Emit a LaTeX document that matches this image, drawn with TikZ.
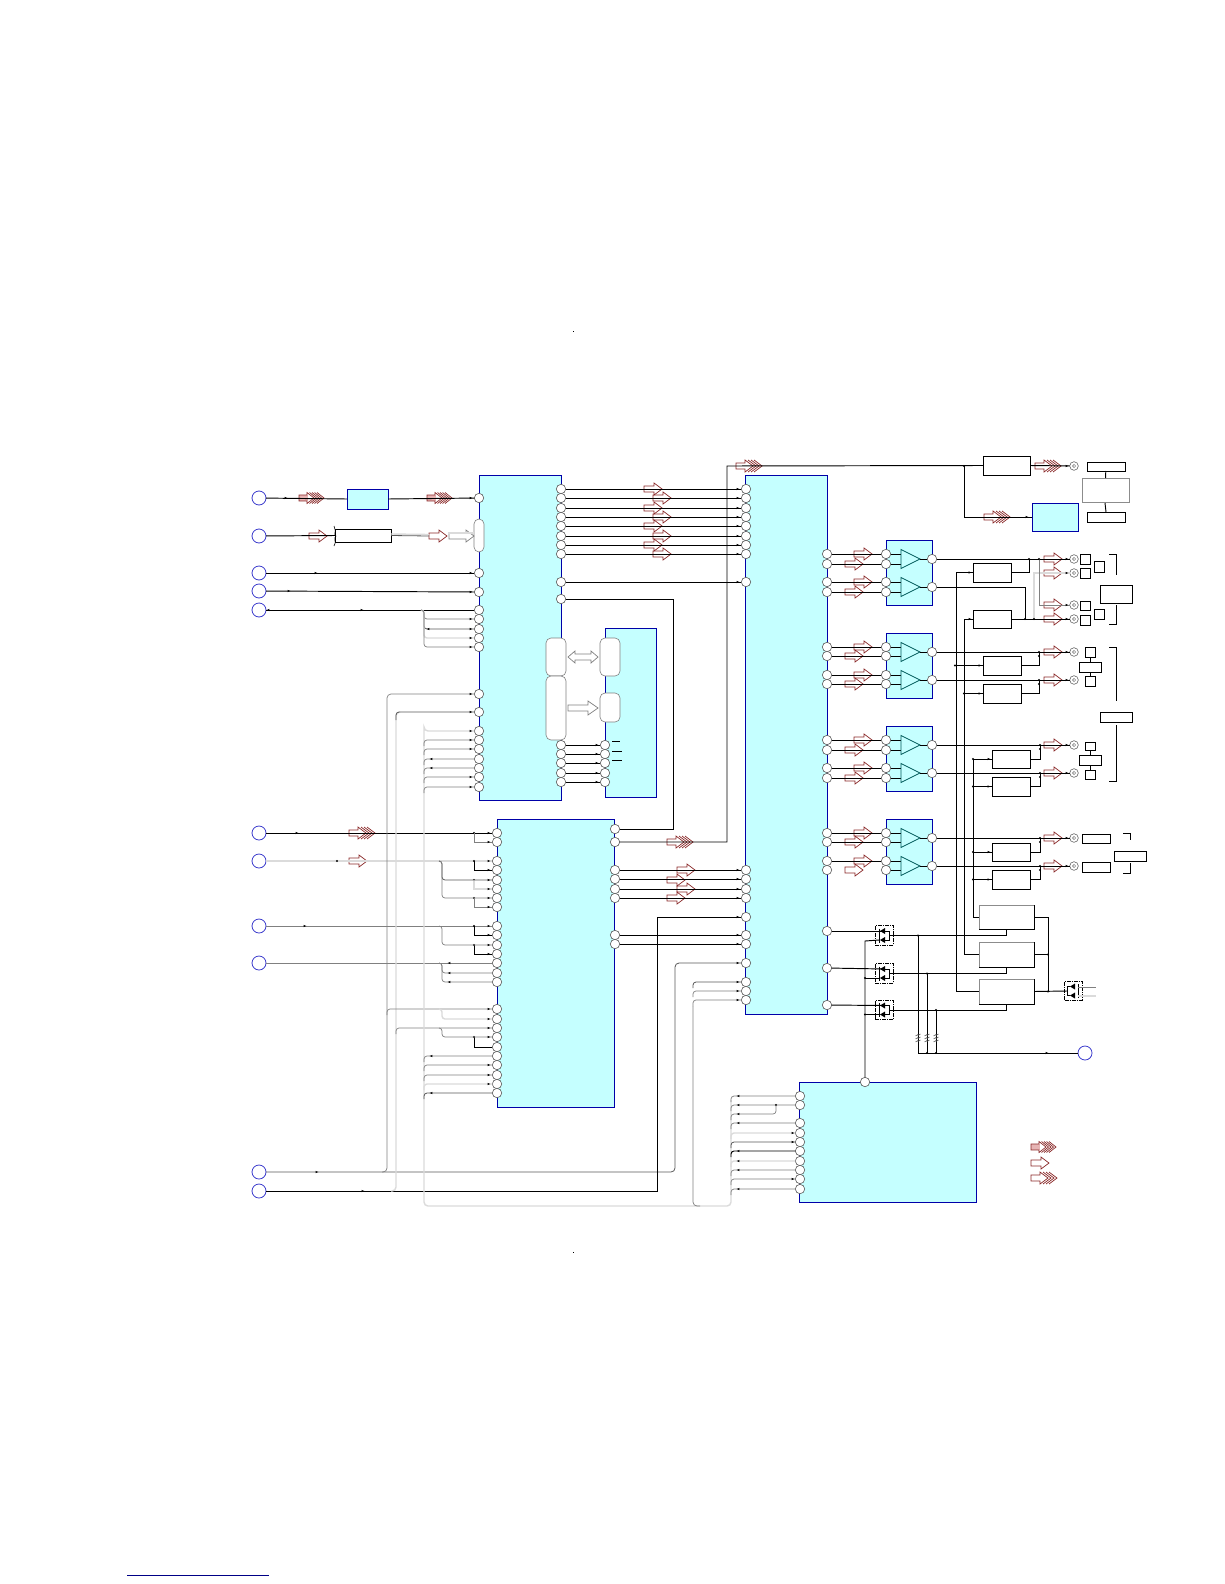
\documentclass[tikz,border=0pt]{standalone}
\usetikzlibrary{calc}
\definecolor{icfill}{HTML}{C5FFFF}
\definecolor{icblue}{HTML}{0000A8}
\definecolor{redarr}{HTML}{8B2A2A}
\definecolor{pinkarr}{HTML}{E6B4B4}
\definecolor{ampline}{HTML}{005A5A}
\definecolor{circblue}{HTML}{3A3ACC}
\tikzset{
  pinnode/.style={circle,draw=black!65,fill=white,line width=0.6pt,minimum size=9.4pt,inner sep=0pt,outer sep=0pt},
  portnode/.style={circle,draw=circblue,fill=white,line width=0.8pt,minimum size=14pt,inner sep=0pt,outer sep=0pt},
  jacknode/.style={circle,draw=black!60,fill=white,line width=0.6pt,minimum size=8.6pt,inner sep=0pt,outer sep=0pt},
  icbox/.style={draw=icblue,fill=icfill,line width=1pt},
  plainbox/.style={draw=black,fill=white,line width=0.9pt},
  greybox/.style={draw=black!45,fill=white,line width=0.9pt},
  slotnode/.style={draw=black!50,fill=white,line width=0.6pt,rounded corners=5pt},
  fetbox/.style={draw=black,line width=0.7pt,dash pattern=on 4pt off 1pt on 1pt off 1pt,minimum width=18pt,minimum height=19.5pt,inner sep=0pt},
  wblack/.style={draw=black,line width=0.95pt},
  wdark/.style={draw=black!65,line width=0.8pt},
  wgrey/.style={draw=black!50,line width=0.7pt},
  wlight/.style={draw=black!14,line width=1.4pt},
  redline/.style={draw=redarr,line width=0.7pt,line join=miter},
  grayarr/.style={draw=black!50,line width=0.7pt},
}
% rectangle node from two corners: style,name,x1,y1,x2,y2
\newcommand\boxat[6]{\node[#1,inner sep=0pt,outer sep=0pt,minimum width={(#5-#3)*1pt},minimum height={(#6-#4)*1pt}] (#2) at ({(#3+#5)/2},{(#4+#6)/2}) {};}
\newcommand\onearrow[3][redline]{\draw[#1] (#2,#3-3) -- (#2+10,#3-3) -- (#2+10,#3-6) -- (#2+18,#3) -- (#2+10,#3+6) -- (#2+10,#3+3) -- (#2,#3+3) -- cycle;}
\newcommand\chevarrow[2]{\draw[redline] (#1,#2-3) -- (#1+9,#2-3) -- (#1+9,#2-6) -- (#1+17,#2) -- (#1+9,#2+6) -- (#1+9,#2+3) -- (#1,#2+3) -- cycle;
  \foreach \o in {12,15,18}{\draw[redline] (#1+\o,#2-6) -- (#1+\o+8,#2) -- (#1+\o,#2+6);}}
\newcommand\densearrow[2]{\fill[pinkarr] (#1,#2-3) rectangle (#1+9,#2+3);
  \draw[redline] (#1,#2-3) -- (#1+8,#2-3) -- (#1+8,#2-5.5) -- (#1+15,#2) -- (#1+8,#2+5.5) -- (#1+8,#2+3) -- (#1,#2+3) -- cycle;
  \foreach \o in {10.5,13,15.5,18}{\draw[redline] (#1+\o,#2-5.5) -- (#1+\o+7,#2) -- (#1+\o,#2+5.5);}}
\newcommand\tipR[2]{\fill[black] (#1-1.3,#2-1.1) -- (#1+1.3,#2) -- (#1-1.3,#2+1.1) -- cycle;}
\newcommand\tipL[2]{\fill[black] (#1+1.3,#2-1.1) -- (#1-1.3,#2) -- (#1+1.3,#2+1.1) -- cycle;}
\newcommand\jdot[2]{\fill[black] (#1,#2) circle (1.2);}
% branch leaving a horizontal run: style, bus x, y from, y to, target
\newcommand\tap[5]{\coordinate (ta) at (#2-3,#3); \coordinate (tb) at (#2,#4);
  \draw[#1,rounded corners=3pt] (ta) -| (tb) -- (#5);}
% branch rising from a vertical bus: style, bus x, y start, target
\newcommand\rise[4]{\coordinate (ta) at (#2,#3); \draw[#1,rounded corners=3pt] (ta) |- (#4);}
\newcommand\fetcore[3]{%
  \coordinate (#1o) at (#2+5.5,#3);
  \coordinate (#1t) at (#2+1,#3-4.5);
  \coordinate (#1b) at (#2-5,#3+4.5);
  \fill[black] (#2-4,#3-4.5) -- (#2+1,#3-7.5) -- (#2+1,#3-1.5) -- cycle;
  \fill[black] (#2-4,#3+4.5) -- (#2+1,#3+1.5) -- (#2+1,#3+7.5) -- cycle;
  \draw[line width=0.8pt] (#2-5,#3-7) -- (#2-5,#3+7);
  \draw[line width=0.8pt] (#2+1,#3-4.5) -- (#2+5.5,#3-4.5) -- (#2+5.5,#3+4.5) -- (#2+1,#3+4.5);}
\newcommand\squig[2]{\foreach \k in {-3,0,3}{\draw[line width=0.5pt,black!70] (#1-2.5,#2+\k+1) -- (#1,#2+\k-0.5) -- (#1,#2+\k+0.5) -- (#1+2.5,#2+\k-1);}}
\begin{document}
\begin{tikzpicture}[x=1pt,y=-1pt]
\useasboundingbox (0,0) rectangle (1224,1584);
\fill[white] (0,0) rectangle (1224,1584);

% page marks
\fill[black] (573,330.5) rectangle (574,331.5);
\fill[black] (573,1251.5) rectangle (574,1252.5);
\coordinate (fa) at (127,1575); \coordinate (fb) at (269,1575);
\draw[icblue!80!black,line width=1pt] (fa) -- (fb);

% ICs
\boxat{icbox}{ICa}{479}{475}{561}{800}
\boxat{icbox}{ICb}{605}{628}{656.5}{797}
\boxat{icbox}{ICc}{745}{475}{827}{1014}
\boxat{icbox}{ICd}{497}{819}{614.5}{1107}
\boxat{icbox}{ICe}{799.5}{1082}{976.5}{1202}
\boxat{icbox}{ICf}{347}{489}{388}{509}
\boxat{icbox}{ICg}{1032}{503}{1078.5}{531}
\boxat{icbox}{AMa}{886}{540}{932}{605}
\boxat{icbox}{AMb}{886}{633}{932}{698}
\boxat{icbox}{AMc}{886}{726}{932}{791}
\boxat{icbox}{AMd}{886}{819}{932}{884}

% plain boxes
\boxat{plainbox}{RX}{335}{529}{391}{542}
\boxat{plainbox}{DLY}{983}{456}{1030}{475}
\boxat{plainbox}{A}{973}{563}{1011}{582}
\boxat{plainbox}{B}{973}{610}{1011}{628}
\boxat{plainbox}{C}{983}{656}{1021}{675}
\boxat{plainbox}{D}{983}{684}{1021}{703}
\boxat{plainbox}{E}{992}{750}{1030}{768}
\boxat{plainbox}{F}{992}{777}{1030}{796}
\boxat{plainbox}{G}{992}{843}{1030}{861}
\boxat{plainbox}{H}{992}{870}{1030}{889}
\boxat{plainbox}{Ra}{979}{905}{1034}{929}
\boxat{plainbox}{Rb}{979}{942}{1034}{967}
\boxat{plainbox}{Rc}{979}{979}{1034}{1004}
\foreach \t/\l in {905/929,942/967,979/1004}{\draw[black!45,line width=1pt] (979,\l) -- (979,\t) -- (1034,\t);}
\boxat{plainbox}{Ta}{1087}{462}{1125}{471}
\boxat{plainbox}{Tb}{1087}{512}{1125}{522}
\boxat{greybox}{Tc}{1082}{478}{1129}{502}
\draw[wblack] (Ta) -- (Tc.north);
\coordinate (tcb) at (1105,503);
\draw[wblack] (tcb) -- (Tb.north);
\boxat{plainbox}{Sa}{1080}{554}{1090}{564}
\boxat{plainbox}{Sb}{1080}{568}{1090}{578}
\boxat{plainbox}{Sc}{1080}{601}{1090}{610}
\boxat{plainbox}{Sd}{1080}{615}{1090}{625}
\boxat{plainbox}{Se}{1094}{561}{1104}{572}
\boxat{plainbox}{Sf}{1094}{609}{1104}{619}
\boxat{plainbox}{Sg}{1100}{585}{1132}{603}
\boxat{plainbox}{Uc}{1079}{662}{1101}{672}
\boxat{plainbox}{Ua}{1085}{647}{1095}{657}
\boxat{plainbox}{Ub}{1085}{676}{1095}{686}
\draw[wblack] (Ua) -- (Uc) -- (Ub);
\boxat{plainbox}{Vc}{1079}{755}{1101}{765}
\boxat{plainbox}{Va}{1085}{742}{1095}{750}
\boxat{plainbox}{Vb}{1085}{770}{1095}{779}
\draw[wblack] (Va) -- (Vc) -- (Vb);
\boxat{plainbox}{Wa}{1100}{712}{1132}{722}
\boxat{plainbox}{Xa}{1082}{834}{1110}{843}
\boxat{plainbox}{Xb}{1082}{862}{1110}{872}
\boxat{plainbox}{Xc}{1114}{851}{1146}{861}
% brackets
\coordinate (ba1) at (1109,554); \coordinate (ba2) at (1116,575);
\draw[wblack] (ba1) -| (ba2);
\coordinate (ba3) at (1116,605); \coordinate (ba4) at (1109,624);
\draw[wblack] (ba3) |- (ba4);
\coordinate (bb1) at (1109,647); \coordinate (bb2) at (1116,701);
\draw[wblack] (bb1) -| (bb2);
\coordinate (bb3) at (1116,725); \coordinate (bb4) at (1109,781);
\draw[wblack] (bb3) |- (bb4);
\coordinate (bc1) at (1123,833); \coordinate (bc2) at (1130,840);
\draw[wblack] (bc1) -| (bc2);
\coordinate (bc3) at (1130,863); \coordinate (bc4) at (1123,873);
\draw[wblack] (bc3) |- (bc4);

% slots
\boxat{slotnode}{SLa}{546}{638}{566}{676}
\boxat{slotnode}{SLb}{546}{676}{566}{740}
\boxat{slotnode}{SLc}{600}{638}{620}{676}
\boxat{slotnode}{SLd}{600}{693}{620}{722}
\boxat{slotnode}{SLe}{474}{519}{484}{552}
\draw[black,line width=0.8pt] (612,741) -- (620,741) (612,751) -- (622,751) (612,760) -- (622,760);

% ports
\foreach \y in {498,536,573,591,610,833,861,926,963,1172,1191}{\node[portnode] (t\y) at (259,\y) {};}
\node[portnode] (tgnd) at (1085,1053) {};

% pins
\foreach \y in {498,573,592,610,619,629,638,647,694,712,731,740,749,759,768,777,787}{\node[pinnode] (a\y) at (479,\y) {};}
\foreach \y in {489,498,508,517,526,536,545,554,582,599,745,754,763,773,782}{\node[pinnode] (b\y) at (561,\y) {};}
\foreach \y in {745,754,763,773,782}{\node[pinnode] (c\y) at (605,\y) {};}
\foreach \y in {489,498,508,517,526,536,545,554,582,870,879,889,898,917,935,944,963,982,991,1000}{\node[pinnode] (d\y) at (746,\y) {};}
\foreach \y in {554,564,582,592,647,656,675,684,740,750,768,778,833,842,861,870,931,968,1005}{\node[pinnode] (e\y) at (827,\y) {};}
\foreach \y in {833,842,861,870,880,889,898,907,926,935,945,954,963,973,982,1009,1019,1028,1037,1047,1056,1065,1075,1084,1093}{\node[pinnode] (f\y) at (497,\y) {};}
\foreach \y in {829,842,870,879,889,898,935,944}{\node[pinnode] (g\y) at (615,\y) {};}
\foreach \y in {1096,1105,1123,1133,1142,1151,1161,1170,1179,1189}{\node[pinnode] (h\y) at (800,\y) {};}
\node[pinnode] (htop) at (865,1082) {};
\foreach \y in {554,564,582,592,647,656,675,684,740,750,768,778,833,842,861,870}{\node[pinnode] (p\y) at (886,\y) {};}
\foreach \y in {559,587,652,680,745,773,838,866}{\node[pinnode] (q\y) at (932,\y) {};}
\foreach \y in {466,559,573,605,619,652,680,745,773,838,866}{\node[jacknode] (j\y) at (1074,\y) {}; \draw[black!60,line width=0.5pt] (j\y) circle (1.6);}

% red and grey block arrows
\densearrow{299}{498} \densearrow{427}{498}
\onearrow{309}{536} \onearrow{429}{536}
\foreach \y in {489,508,526,545}{\onearrow{644}{\y}}
\foreach \y in {498,517,536,554}{\onearrow{653}{\y}}
\chevarrow{736}{466} \chevarrow{1035}{466} \chevarrow{984}{517}
\chevarrow{349}{833} \onearrow{349}{861}
\chevarrow{667}{842}
\onearrow{677}{870} \onearrow{667}{880} \onearrow{677}{889} \onearrow{667}{898}
\foreach \a/\b/\c/\d in {554/564/582/592,647/656/675/684,740/750/768/778,833/842/861/870}{
  \onearrow{854}{\a} \onearrow{845}{\b} \onearrow{854}{\c} \onearrow{845}{\d}}
\foreach \y in {559,573,605,619,652,680,745,773,838,866}{\onearrow{1044}{\y}}
\densearrow{1031}{1147} \onearrow{1031}{1163} \chevarrow{1031}{1178}
% grey outline arrows
\draw[grayarr] (449,533) -- (466,533) -- (466,530) -- (474,536) -- (466,542) -- (466,539) -- (449,539) -- cycle;
\draw[grayarr] (568,657) -- (575,651) -- (575,654) -- (591,654) -- (591,651) -- (598,657) -- (591,663) -- (591,660) -- (575,660) -- (575,663) -- cycle;
\draw[grayarr] (568,705) -- (588,705) -- (588,701) -- (598,708) -- (588,715) -- (588,711) -- (568,711) -- cycle;

% top-left run
\draw[wblack] (t498) -- (ICf.west);
\draw[wblack] (ICf.east) -- (a498);
\draw[wblack] (t536) -- (RX.west);
\draw[line width=0.6pt] (334,526) .. controls (337,532) and (333,536) .. (336,536) .. controls (333,538) and (337,542) .. (334,546);
\coordinate (rxa) at (429,536);\coordinate (rxb) at (449,536);
\draw[wlight] ([yshift=1.5pt]RX.east) -- ([yshift=1.5pt]rxa);
\draw[wdark] (RX.east) -- (rxa);
\draw[wlight] (448,533) -- (474,533);
\draw[wblack] (t573) -- (a573);
\draw[wblack] (t591) -- (a592);
\draw[wblack] (t610) -- (a610);
\tap{wgrey}{424}{610}{619}{a619}
\tap{wdark}{424}{610}{629}{a629}
\tap{wlight}{424}{610}{638}{a638}
\tap{wgrey}{424}{610}{647}{a647}

% IC a to IC c and IC b
\foreach \y in {489,498,508,517,526,536,545,554,582}{\draw[wblack] (b\y) -- (d\y); \tipR{738}{\y}}
\foreach \y in {745,754,763,773,782}{\draw[wblack] (b\y) -- (c\y); \tipR{597}{\y}}
\coordinate (n673a) at (673,599); \coordinate (n673b) at (673,829);
\draw[wblack] (b599) -- (n673a) -- (n673b) -- (g829);
\coordinate (n727) at (727,466);
\draw[wblack] (g842) -| (n727) -- (DLY.west);
\coordinate (n964) at (964,517);
\draw[wblack] (DLY.west -| n964) -- (n964) -- (ICg.west);
\jdot{964}{466} \tipR{1027}{517}
\draw[wblack] (DLY.east) -- (j466);

% IC d to IC c
\foreach \y in {870,879,889,898,935,944}{\draw[wblack] (g\y) -- (d\y); \tipR{738}{\y}}

% IC d left side
\draw[wblack] (t833) -- (f833);
\draw[wlight] (t861) -- (f861);
\draw[wgrey] (t926) -- (f926);
\draw[wgrey,line width=0.6pt] (t963) -- (f963);
\foreach \y/\z/\c in {833/842/wgrey,861/870/wblack,880/889/wlight,898/907/wgrey,926/935/wblack,945/954/wblack,1037/1047/wblack}{
  \coordinate (jf\y) at (474,\y); \jdot{474}{\y}
  \draw[\c] (jf\y) |- (f\z);}
\tap{wdark}{442}{861}{880}{f880}
\tap{wgrey}{442}{861}{898}{f898}
\tap{wgrey}{442}{926}{945}{f945}
\tap{wgrey}{442}{963}{973}{f973}
\tap{wgrey}{442}{963}{982}{f982}
\foreach \y in {963,973,982}{\tipL{449}{\y}}

% long buses
\coordinate (k1) at (675,1172);
\draw[wdark,rounded corners=4pt] (t1172) -- (k1) |- (d963);
\coordinate (k2) at (657,1191);
\draw[wblack] (t1191) -- (k2) |- (d917);
\coordinate (k3a) at (382,1172); \coordinate (k3b) at (387,694);
\draw[wgrey,rounded corners=4pt] (k3a) -| (k3b) -- (a694);
\coordinate (k4a) at (391,1191); \coordinate (k4b) at (396,712);
\draw[wlight,rounded corners=4pt] (k4a) -| (k4b) -- ++(4,0);
\rise{wdark}{396}{720}{a712}
\rise{wgrey}{387}{1015}{f1009}
\tap{wlight}{442}{1009}{1019}{f1019}
\rise{wgrey}{396}{1034}{f1028}
\tap{wgrey}{442}{1028}{1037}{f1037}

\coordinate (k5b) at (731,1206); \coordinate (k5c) at (424,731); \coordinate (k5d) at (731,1100);
\draw[wlight,rounded corners=4pt] (a731) -| (k5c) |- (k5b) -- (k5d);
\foreach \y/\c in {740/wgrey,749/wgrey,759/wgrey,768/wgrey,777/wgrey,787/wgrey}{\rise{\c}{424}{\y+6}{a\y}}
\foreach \y/\c in {1056/wgrey,1065/wgrey,1075/wgrey,1084/wlight,1093/wdark}{\rise{\c}{424}{\y+6}{f\y}}
\coordinate (k6a) at (693,1006); \coordinate (k6b) at (700,1206);
\draw[wgrey,rounded corners=4pt] (k6a) |- (k6b);
\foreach \y/\c in {982/wdark,991/wgrey,1000/wgrey}{\rise{\c}{693}{\y+6}{d\y}}
\foreach \y/\c in {1096/wgrey,1105/wgrey,1123/wgrey,1133/wlight,1142/wdark,1151/wblack,1161/wlight,1170/wgrey,1179/wgrey,1189/wgrey}{\rise{\c}{731}{\y+6}{h\y}}
\coordinate (k8) at (776,1114); \coordinate (k9) at (776,1105); \coordinate (k10) at (731,1120);
\jdot{776}{1105}
\draw[wgrey,rounded corners=3pt] (k10) |- (k8) -- (k9);

% small arrow tips on the left runs
\foreach \y in {498,573,592,619,629,638,647,694,712,731,740,749,777,787}{\tipR{471}{\y}}
\foreach \y in {629}{\tipL{428}{\y}}
\foreach \y in {759,768}{\tipL{431}{\y}}
\foreach \y in {833,842,861,870,880,889,898,907,926,935,945,954,1009,1019,1028,1037,1065,1075,1084}{\tipR{489}{\y}}
\foreach \y in {1056,1093}{\tipL{431}{\y}}
\tipR{738}{917}\tipR{738}{963}\tipR{738}{982}\tipR{738}{991}\tipR{738}{1000}
\foreach \y in {1096,1105,1114,1123,1151,1161,1170,1189}{\tipL{738}{\y}}
\foreach \y in {1133,1142,1179}{\tipR{793}{\y}}
\tipL{268}{610}
\foreach \x/\y in {286/498,316/573,289/591,362/610,297/833,305/926,317/1172,363/1191,1047/1053}{\tipR{\x}{\y}}
\jdot{337}{861}

% amplifiers
\foreach \a/\b/\o in {554/564/559,582/592/587,647/656/652,675/684/680,740/750/745,768/778/773,833/842/838,861/870/866}{
  \draw[wblack] (p\a) -- (901,\a);
  \draw[wblack] (p\b) -- (901,\b);
  \draw[ampline,line width=0.8pt,fill=icfill] (901,\o-9.5) -- (920,\o) -- (901,\o+9.5) -- cycle;
  \draw[wblack] (920,\o) -- (q\o);
  \draw[wblack] (e\a) -- (p\a);
}
\foreach \y in {564,592,656,684,750,778,842}{\draw[wblack] (e\y) -- (p\y);}

% outputs
\coordinate (n1029) at (1029,559); \coordinate (n1039) at (1039,559);
\coordinate (n1025) at (1025,619); \coordinate (n1034) at (1034,619);
\draw[wblack] (q559) -- (j559);
\draw[wblack] (A.east) -| (n1029);
\draw[wblack] (q587) -| (n1025);
\draw[wblack] (B.east) -- (j619);
\coordinate (m573) at (1034,573);
\draw[wlight] (n1034) -- (m573) -- (j573);
\draw[wgrey] (j605) -| (n1039);
\jdot{1029}{559}\jdot{1039}{559}\jdot{1025}{619}\jdot{1034}{619}
\foreach \y/\b in {652/C,680/D}{
  \coordinate (n\y) at (1039,\y);
  \draw[wblack] (q\y) -- (j\y);
  \draw[wblack] (\b.east) -| (n\y);
  \jdot{1039}{\y}\jdot{1039}{\y+4}}
\foreach \y/\b in {745/E,773/F,838/G,866/H}{
  \coordinate (n\y) at (1040,\y);
  \draw[wblack] (q\y) -- (j\y);
  \draw[wblack] (\b.east) -| (n\y);
  \jdot{1040}{\y}\jdot{1040}{\y+4}}
\foreach \y in {466,559,573,605,619,652,680,745,773,838,866}{\tipR{1067}{\y}}

% input buses to delay boxes
\coordinate (busa) at (956,991.5);
\coordinate (busb) at (964,954.5);
\coordinate (busc) at (973,917);
\draw[wblack] (A.west) -| (busa) -- (Rc.west);
\draw[wblack] (B.west) -| (busb) -- (Rb.west);
\draw[wblack] (E.west) -| (busc) -- (Ra.west);
\draw[wblack] (C.west) -| (busa);
\draw[wblack] (D.west) -| (busb);
\draw[wblack] (F.west) -| (busc);
\draw[wblack] (G.west) -| (busc);
\draw[wblack] (H.west) -| (busc);
\jdot{955}{665.5}\jdot{964}{693.5}\jdot{973}{759}\jdot{973}{786.5}\jdot{973}{852}\jdot{973}{879.5}
\tipR{970}{572.5}\tipR{970}{619}\tipR{980}{665.5}\tipR{980}{693.5}\tipR{989}{759}\tipR{989}{786.5}\tipR{989}{852}\tipR{989}{879.5}

% outputs of the three large boxes
\coordinate (busd) at (1048,991.5);
\draw[wblack] (Ra.east) -| (busd);
\draw[wblack] (Rb.east) -- (Rb.east -| busd);
\jdot{1048}{954.5}\jdot{1048}{991.5}

% transistors
\node[fetbox] (Fa) at (884,935.5) {};
\node[fetbox] (Fb) at (884,973.5) {};
\node[fetbox] (Fc) at (884,1010) {};
\node[fetbox] (Fd) at (1073.5,991) {};
\fetcore{Fa}{884}{935.5}
\fetcore{Fb}{884}{973.5}
\fetcore{Fc}{884}{1010}
\draw[wblack] (e931) -- (Fat);
\draw[wblack] (e968) -- (Fbt);
\draw[wblack] (e1005) -- (Fct);
\coordinate (vb) at (865,941);
\draw[wblack] (htop) -- (vb) -- (Fab);
\coordinate (vc) at (865,978);
\coordinate (vd) at (865,1014.5);
\draw[wblack] (vc) -- (Fbb);
\draw[wblack] (vd) -- (Fcb);
\jdot{865}{978}\jdot{865}{1014.5}
\coordinate (wa) at (1006,935.5); \coordinate (wb) at (1006,973.5); \coordinate (wc) at (1006,1010);
\draw[wblack] (Fao) -- (wa) -- (Ra.south -| wa);
\draw[wblack] (Fbo) -- (wb) -- (Rb.south -| wb);
\draw[wblack] (Fco) -- (wc) -- (Rc.south -| wc);
% fourth transistor
\fill[black] (1070,986.5) -- (1075,983.5) -- (1075,989.5) -- cycle;
\fill[black] (1070,995.5) -- (1075,992.5) -- (1075,998.5) -- cycle;
\draw[line width=0.8pt] (1067,986.5) -- (1070,986.5) (1067,995.5) -- (1070,995.5) (1067,986.5) -- (1067,995.5) (1078,984) -- (1078,998);
\coordinate (fdi) at (1067,991);
\draw[wblack] (Rc.east) -- (fdi);
\coordinate (fda) at (1096,987); \coordinate (fdb) at (1096,996);
\coordinate (fdc) at (1078,987); \coordinate (fdd) at (1078,996);
\draw[wgrey] (fdc) -- (fda);
\draw[wlight] (fdd) -- (fdb);
% ground rails
\coordinate (xa) at (918,935.5); \coordinate (xb) at (927,973.5); \coordinate (xc) at (936,1010);
\coordinate (xg) at (918,1053);
\draw[wblack] (xa) -- (xg) -- (tgnd);
\draw[wblack] (xb) -- (xb |- xg);
\draw[wblack] (xc) -- (xc |- xg);
\foreach \x/\y in {918/935.5,927/973.5,936/1010,927/1053,936/1053}{\jdot{\x}{\y}}
\foreach \x in {918,927,936}{\squig{\x}{1038}}
\end{tikzpicture}
\end{document}
